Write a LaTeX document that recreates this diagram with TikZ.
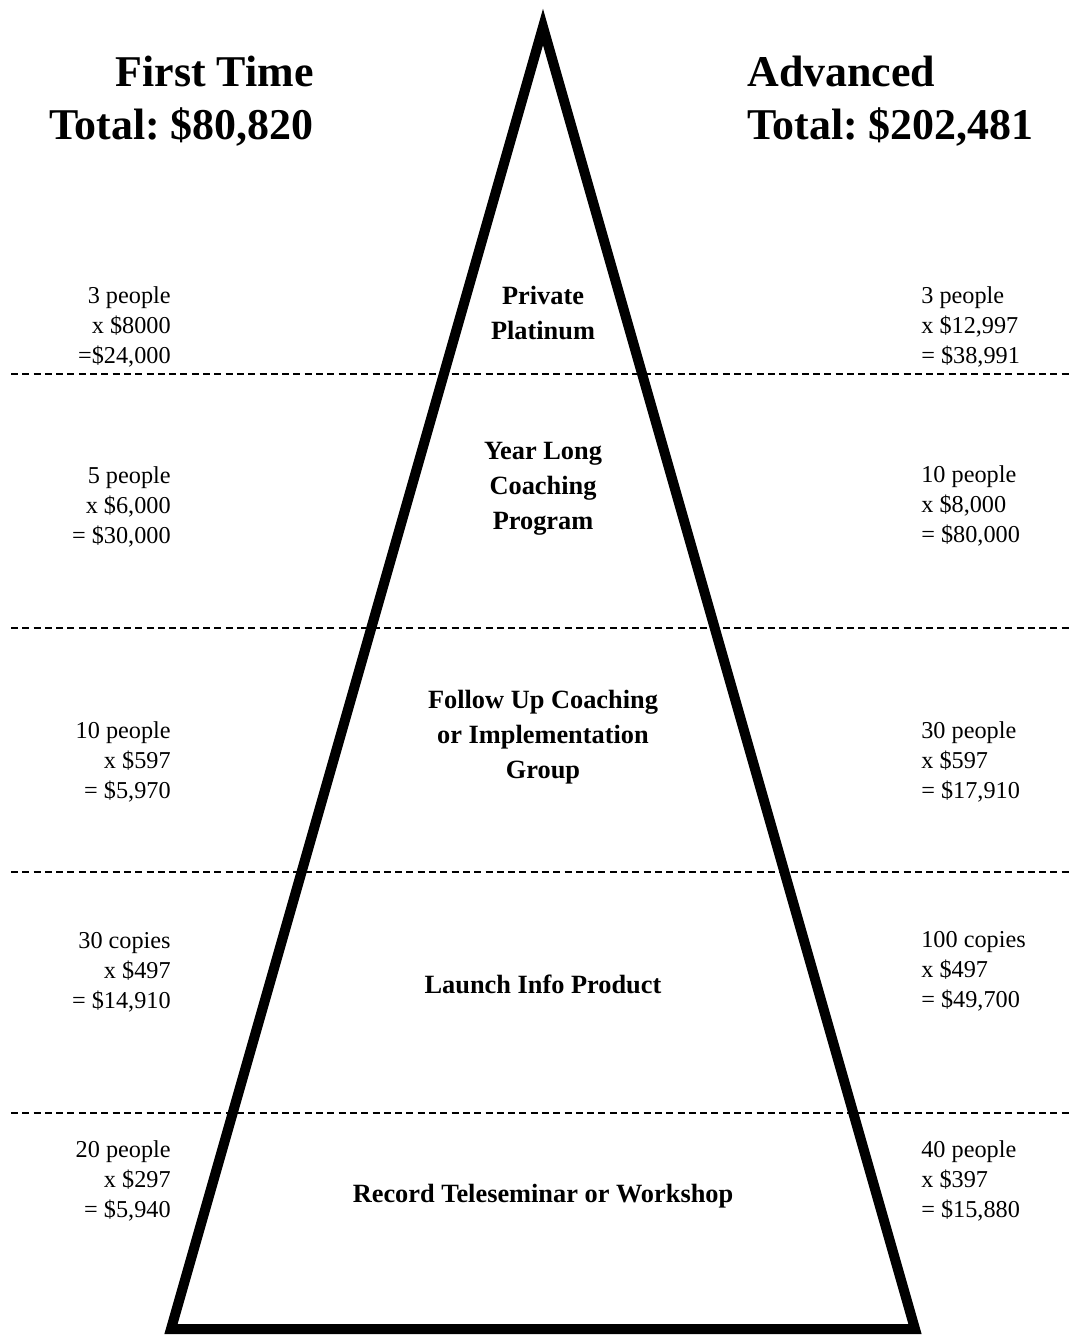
\documentclass[tikz,border=0pt]{standalone}
\usepackage{fontspec}
\setmainfont{Liberation Serif}
\frenchspacing
\usetikzlibrary{positioning}
\tikzset{
  pyramid/.style={line width=0.2cm, line join=miter},
  cutline/.style={line width=0.05cm, dash pattern=on 0.14cm off 0.086cm},
  headline/.style={
    font=\fontsize{25}{30}\selectfont\bfseries,
    inner sep=0pt},
  tierlabel/.style={
    font=\fontsize{15}{19.8}\selectfont\bfseries,
    align=center,
    inner sep=0pt},
  leftcalc/.style={
    font=\fontsize{13.8}{17}\selectfont,
    align=right, anchor=east,
    inner sep=0pt},
  rightcalc/.style={
    font=\fontsize{13.8}{17}\selectfont,
    align=left, anchor=west,
    inner sep=0pt},
}

\begin{document}
\begin{tikzpicture}[x=0.02cm,y=-0.02cm]
  \useasboundingbox (0,0) rectangle (1070,1335);

  % the pyramid
  \coordinate (apex) at (543,27);
  \coordinate (baseL) at (171,1329);
  \coordinate (baseR) at (915,1329);
  \draw[pyramid] (apex) -- (baseL) -- (baseR) -- cycle;

  % tier borders
  \draw[cutline] (11,374) -- (1070,374);
  \draw[cutline] (11,628) -- (1070,628);
  \draw[cutline] (11,872) -- (1070,872);
  \draw[cutline] (11,1113) -- (1070,1113);

  % column heads
  \node[headline, anchor=east, align=right] (firsthead) at (314,101)
    {First Time\\Total: \$80,820};
  \node[headline, anchor=west, align=left] (advhead) at (747,101)
    {Advanced\\Total: \$202,481};

  % tiers
  \node[tierlabel] (platinum) at (543,313) {Private\\Platinum};
  \node[tierlabel] (yearlong) at (543,489) {Year Long\\Coaching\\Program};
  \node[tierlabel] (followup) at (543,737) {Follow Up Coaching\\or Implementation\\Group};
  \node[tierlabel] (infoprod) at (543,984) {Launch Info Product};
  \node[tierlabel] (telesem) at (543,1196) {Record Teleseminar or Workshop};

  % first time figures
  \node[leftcalc] (first1) at (171,327) {3 people\\x \$8000\\=\$24,000};
  \node[leftcalc] (first2) at (171,507) {5 people\\x \$6,000\\= \$30,000};
  \node[leftcalc] (first3) at (171,762) {10 people\\x \$597\\= \$5,970};
  \node[leftcalc] (first4) at (171,972) {30 copies\\x \$497\\= \$14,910};
  \node[leftcalc] (first5) at (171,1181) {20 people\\x \$297\\= \$5,940};

  % advanced figures
  \node[rightcalc] (adv1) at (921,327) {3 people\\x \$12,997\\= \$38,991};
  \node[rightcalc] (adv2) at (921,506) {10 people\\x \$8,000\\= \$80,000};
  \node[rightcalc] (adv3) at (921,762) {30 people\\x \$597\\= \$17,910};
  \node[rightcalc] (adv4) at (921,971) {100 copies\\x \$497\\= \$49,700};
  \node[rightcalc] (adv5) at (921,1181) {40 people\\x \$397\\= \$15,880};
\end{tikzpicture}
\end{document}
